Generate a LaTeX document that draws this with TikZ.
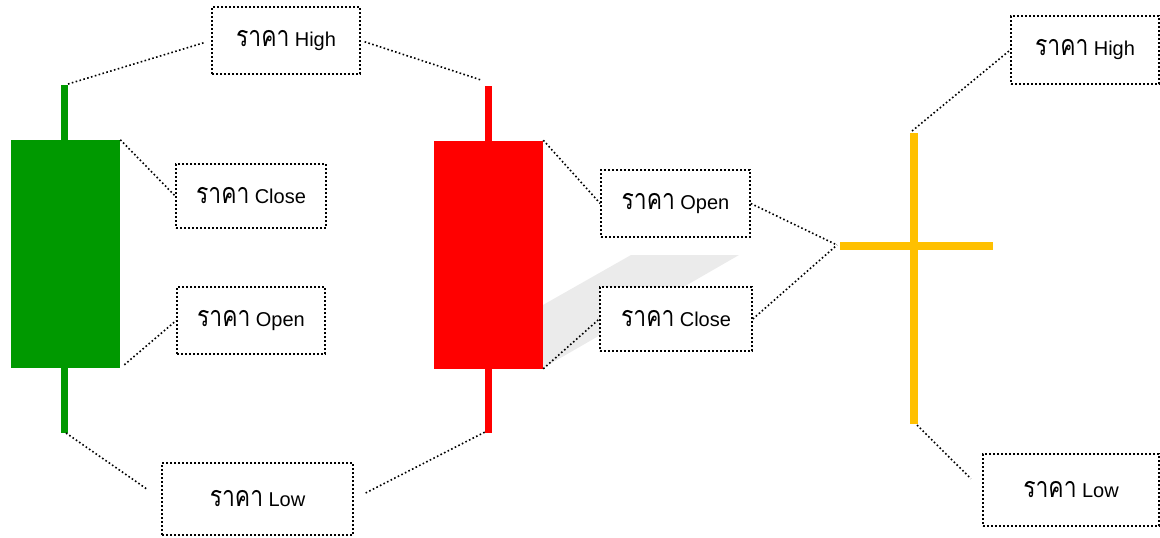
\documentclass[tikz,border=0pt]{standalone}
\usepackage{fontspec}
\setmainfont{Liberation Sans}
\newfontfamily\thaifont[Script=Thai,FakeStretch=0.8]{Loma}
\usetikzlibrary{calc}

\definecolor{candlegreen}{RGB}{0,153,0}
\definecolor{candlered}{RGB}{255,0,0}
\definecolor{dojiyellow}{RGB}{255,192,0}
\definecolor{shadowgray}{RGB}{235,235,235}
\newcommand{\price}[1]{{\thaifont\fontsize{21.5pt}{24pt}\selectfont ราคา}\hspace{4pt}#1}

\begin{document}
\begin{tikzpicture}[x=0.75pt,y=-0.75pt,
  lbl/.style={draw, fill=white, line width=1.2pt, dash pattern=on 1.2pt off 1.8pt, inner sep=0pt, font=\fontsize{15pt}{18pt}\selectfont},
  lead/.style={line width=1.2pt, dash pattern=on 1.2pt off 1.8pt},
  body/.style={rectangle, inner sep=0pt, minimum width=81.75pt, minimum height=171pt}]
\useasboundingbox (0,0) rectangle (1160,537);

% shadow behind the red candle
\fill[shadowgray] (520,318) -- (631,255) -- (739,255) -- (543,368) -- cycle;

% green candle
\draw[candlegreen, line width=5.25pt] (64.5,85) -- (64.5,433);
\node[body, fill=candlegreen] (gBody) at (65.5,254) {};
% red candle
\draw[candlered, line width=5.25pt] (488,86) -- (488,433);
\node[body, fill=candlered] (rBody) at (488.5,254.5) {};
% doji
\draw[dojiyellow, line width=6pt] (914,133) -- (914,424);
\draw[dojiyellow, line width=6pt] (840,245.5) -- (993,245.5);

\coordinate (gHi) at (68,84);
\coordinate (gLo) at (66,433);
\coordinate (rHi) at (481,80);
\coordinate (rLo) at (485,432);
\coordinate (yHi) at (912,131);
\coordinate (yLo) at (917,425);
\coordinate (yMid) at (837,245);

% price labels
\foreach \n/\x/\y/\w/\h/\t in {hiM/286/40.5/148/67/High, clG/251/196/150/64/Close,
    opG/251/320.5/148/67/Open, loM/257.5/499/191/72/Low, opR/675.5/203.5/149/67/Open,
    clR/676/319/152/64/Close, hiY/1085/50/148/68/High, loY/1071/490/176/72/Low}
  \node[lbl, minimum width=\w*0.75pt, minimum height=\h*0.75pt] (\n) at (\x,\y) {\price{\t}};

% leaders
\draw[lead, shorten >=6pt] (gHi) -- (hiM.west);
\draw[lead, shorten <=3pt] (hiM.east) -- (rHi);
\draw[lead] (gBody.north east) -- (clG.west);
\draw[lead, shorten <=4pt] (gBody.south east) -- (opG.west);
\draw[lead, shorten >=12pt] (gLo) -- (loM.west);
\draw[lead, shorten <=10pt] (loM.east) -- (rLo);
\draw[lead] (rBody.north east) -- (opR.west);
\draw[lead] (rBody.south east) -- (clR.west);
\foreach \b in {opR, clR}
  \draw[lead] (\b.east) -- (yMid);
\draw[lead] (yHi) -- (hiY.west);
\draw[lead, shorten >=12pt] (yLo) -- (loY.west);
\end{tikzpicture}
\end{document}
